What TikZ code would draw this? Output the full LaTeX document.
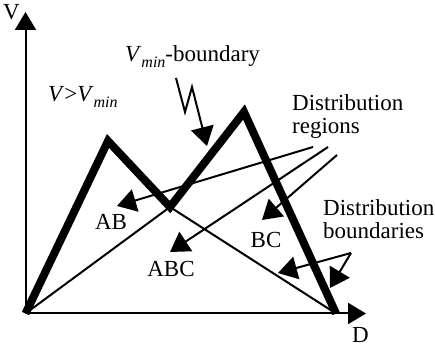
\documentclass[tikz,border=0pt]{standalone}
\usepackage{fontspec}
\setmainfont{Liberation Serif}
\usetikzlibrary{arrows.meta,positioning}
\newcommand{\vmin}{\textit{V}\raisebox{-6pt}{\fontsize{16}{16}\selectfont\textit{min}}}

\begin{document}
\begin{tikzpicture}[x=1pt,y=1pt,
  axis/.style={line width=2pt, -{Triangle[length=18pt,width=21pt]}},
  boundary/.style={line width=8pt},
  divide/.style={line width=2pt},
  pointer/.style={line width=2pt, -{Triangle[length=19pt,width=23pt]}},
  lbl/.style={font=\fontsize{23}{23}\selectfont, inner sep=0pt}]
  \useasboundingbox (0,0) rectangle (435,347);

  % Corner points of the boundary
  \coordinate (O) at (25.5,33.5);
  \coordinate (pA) at (108,206);
  \coordinate (dip) at (170,140);
  \coordinate (pC) at (244,235);
  \coordinate (end) at (336,33.5);

  % Axes
  \coordinate (vtip) at (25.5,335);
  \coordinate (dtip) at (366,33.5);
  \draw[axis] (O) -- (vtip);
  \draw[axis] (O) -- (dtip);
  \node[lbl, anchor=base west] (V) at (3,327) {V};
  \node[lbl, anchor=base west] (D) at (352,4.5) {D};

  % Distribution boundaries (thin) and V_min boundary (thick)
  \draw[divide] (O) -- (dip) -- (end);
  \draw[boundary] (O) -- (pA) -- (dip) -- (pC) -- (end);

  % Region labels
  \node[lbl, anchor=base] (AB) at (111,117) {AB};
  \node[lbl, anchor=base] (BC) at (266,99) {BC};
  \node[lbl, anchor=base] (ABC) at (171,70) {ABC};

  % Annotations
  \node[lbl, anchor=base west] (above) at (48,245) {\textit{V}>\vmin};
  \node[lbl, anchor=base west] (vminlbl) at (125,285) {\vmin-boundary};
  \node[lbl, anchor=base west, align=left] (regions) at (292,213.5) {Distribution\\regions};
  \node[lbl, anchor=base west, align=left] (bounds) at (323,108) {Distribution\\boundaries};

  % Pointers from the region text
  \coordinate (rAB) at (313,200);
  \coordinate (rABC) at (328,200);
  \coordinate (rBC) at (337,192);
  \coordinate (tAB) at (117,141);
  \coordinate (tABC) at (170,95);
  \coordinate (tBC) at (262,127);
  \draw[pointer] (rAB) -- (tAB);
  \draw[pointer] (rABC) -- (tABC);
  \draw[pointer] (rBC) -- (tBC);

  % Zigzag pointer to the thick boundary
  \coordinate (z0) at (176,269);
  \coordinate (z1) at (185,235);
  \coordinate (z2) at (192,260);
  \coordinate (tV) at (207,201);
  \draw[pointer] (z0) -- (z1) -- (z2) -- (tV);

  % Fork pointer to the thin and thick boundaries
  \coordinate (fork) at (351,94);
  \coordinate (tB1) at (278,74);
  \coordinate (tB2) at (330,59);
  \draw[pointer] (fork) -- (tB1);
  \draw[pointer] (fork) -- (tB2);
\end{tikzpicture}
\end{document}
